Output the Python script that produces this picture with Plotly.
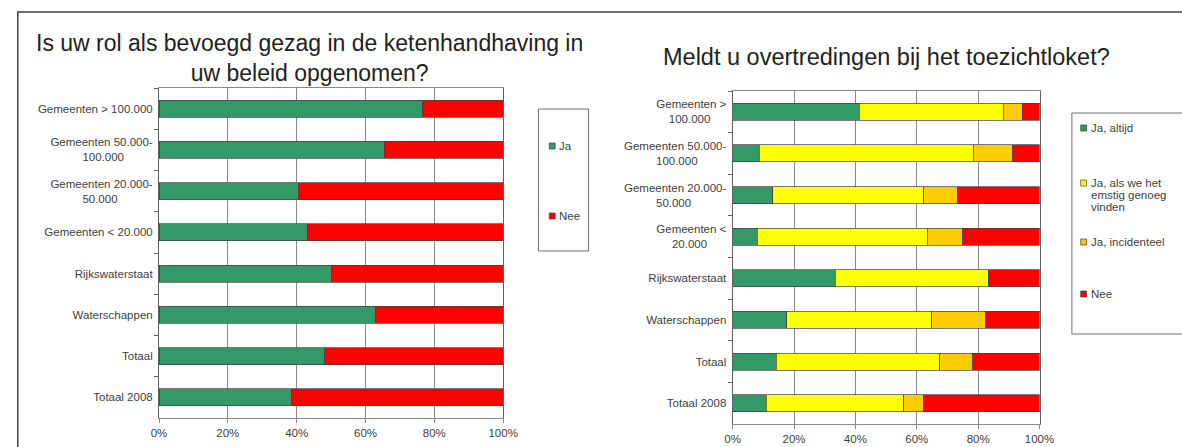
import plotly.graph_objects as go

W, H = 1182, 447

# ── data ─────────────────────────────────────────────────────────────
cat_left = [
    "Gemeenten &gt; 100.000",
    "Gemeenten 50.000-<br>100.000" + "&nbsp;" * 9,
    "Gemeenten 20.000-<br>50.000" + "&nbsp;" * 11,
    "Gemeenten &lt; 20.000",
    "Rijkswaterstaat",
    "Waterschappen",
    "Totaal",
    "Totaal 2008",
]
ja = [76.6, 65.4, 40.4, 43.1, 50.2, 63.0, 48.2, 38.4]
nee = [23.4, 34.6, 59.6, 56.9, 49.8, 37.0, 51.8, 61.6]

cat_right = [
    "Gemeenten &gt;<br>100.000" + "&nbsp;" * 5,
    "Gemeenten 50.000-<br>100.000" + "&nbsp;" * 9,
    "Gemeenten 20.000-<br>50.000" + "&nbsp;" * 11,
    "Gemeenten &lt;<br>20.000" + "&nbsp;" * 6,
    "Rijkswaterstaat",
    "Waterschappen",
    "Totaal",
    "Totaal 2008",
]
ja_altijd = [41.3, 8.7, 13.0, 8.1, 33.5, 17.6, 14.2, 11.0]
ja_ernstig = [46.9, 69.7, 49.3, 55.3, 50.0, 47.3, 53.3, 44.8]
ja_incidenteel = [6.1, 12.9, 11.0, 11.5, 0.0, 17.6, 10.8, 6.4]
nee_right = [5.7, 8.7, 26.7, 25.1, 16.5, 17.5, 21.7, 37.8]

x_ticks = [0, 20, 40, 60, 80, 100]
x_tick_text = ["0%", "20%", "40%", "60%", "80%", "100%"]

GREEN, RED, YELLOW, ORANGE = "#339966", "#ff0000", "#ffff00", "#ffcc00"
FONT = "Liberation Sans, Arial, sans-serif"
TXT = "#404040"
GRID = "#8a8a8a"


def px(x):
    return x / W


def py(y):
    return 1 - y / H


fig = go.Figure()

bar_line = dict(color="#404040", width=0.7)
for name, vals, color in [("Ja", ja, GREEN), ("Nee", nee, RED)]:
    fig.add_trace(go.Bar(
        y=cat_left, x=vals, name=name, orientation="h",
        marker=dict(color=color, line=bar_line),
        xaxis="x", yaxis="y", showlegend=False,
    ))

for name, vals, color in [
    ("Ja, altijd", ja_altijd, GREEN),
    ("Ja, als we het emstig genoeg vinden", ja_ernstig, YELLOW),
    ("Ja, incidenteel", ja_incidenteel, ORANGE),
    ("Nee", nee_right, RED),
]:
    fig.add_trace(go.Bar(
        y=cat_right, x=vals, name=name, orientation="h",
        marker=dict(color=color, line=bar_line),
        xaxis="x2", yaxis="y2", showlegend=False,
    ))

xax = dict(
    range=[0, 100], tickvals=x_ticks, ticktext=x_tick_text,
    showgrid=True, gridcolor=GRID, gridwidth=1, zeroline=False,
    showline=True, linecolor=GRID, linewidth=1, mirror=True,
    ticks="outside", ticklen=4, tickcolor=GRID,
    tickfont=dict(size=11.5, color=TXT), fixedrange=True,
)
yax = dict(
    type="category", autorange="reversed", showgrid=False,
    showline=True, linecolor="#606060", linewidth=1, mirror=True,
    ticks="outside", tickson="boundaries", ticklen=4, tickcolor="#606060",
    ticklabelstandoff=3,
    tickfont=dict(size=11.5, color=TXT), fixedrange=True,
)

fig.update_layout(
    width=W, height=H,
    margin=dict(l=0, r=0, t=0, b=0),
    paper_bgcolor="white", plot_bgcolor="white",
    font=dict(family=FONT, color=TXT),
    barmode="stack", bargap=0.59,
    xaxis=dict(xax, domain=[px(154), px(505)], anchor="y"),
    yaxis=dict(yax, domain=[py(418), py(88)], anchor="x"),
    xaxis2=dict(xax, domain=[px(739), px(1052)], anchor="y2"),
    yaxis2=dict(yax, domain=[py(424), py(91)], anchor="x2"),
)

# outer frame and legend boxes
fig.add_shape(type="rect", xref="paper", yref="paper",
              x0=px(10), x1=px(1200), y0=py(470), y1=py(12),
              line=dict(color="#404040", width=1.5))
fig.add_shape(type="rect", xref="paper", yref="paper",
              x0=px(541), x1=px(592), y0=py(251), y1=py(109),
              line=dict(color="#707070", width=1))
fig.add_shape(type="rect", xref="paper", yref="paper",
              x0=px(1085), x1=px(1200), y0=py(334), y1=py(113),
              line=dict(color="#707070", width=1))

# titles
fig.add_annotation(
    x=px(307), y=py(58), xref="paper", yref="paper", showarrow=False,
    text="Is uw rol als bevoegd gezag in de ketenhandhaving in<br>uw beleid opgenomen?",
    font=dict(size=23, color="#222222"), xanchor="center", yanchor="middle",
)
fig.add_annotation(
    x=px(896), y=py(57), xref="paper", yref="paper", showarrow=False,
    text="Meldt u overtredingen bij het toezichtloket?",
    font=dict(size=23.5, color="#222222"), xanchor="center", yanchor="middle",
)

# legends drawn by hand (Excel-style small swatches)
legend_left = [(["Ja"], GREEN, 146), (["Nee"], RED, 216)]
legend_right = [
    (["Ja, altijd"], GREEN, 128),
    (["Ja, als we het", "emstig genoeg", "vinden"], YELLOW, 183),
    (["Ja, incidenteel"], ORANGE, 242),
    (["Nee"], RED, 294),
]
for items, sx in [(legend_left, 552), (legend_right, 1094)]:
    for lines, color, yy in items:
        fig.add_shape(type="rect", xref="paper", yref="paper",
                      x0=px(sx), x1=px(sx + 6), y0=py(yy + 3), y1=py(yy - 3),
                      fillcolor=color, line=dict(color="#404040", width=0.7))
        for i, line in enumerate(lines):
            fig.add_annotation(
                x=px(sx + 8), y=py(yy + 12 * i),
                xref="paper", yref="paper",
                showarrow=False, text=line,
                xanchor="left", yanchor="middle",
                font=dict(size=11.5, color=TXT),
            )

fig.write_html("out.html", config={"displayModeBar": False},
               post_script="document.body.style.margin='0';")
